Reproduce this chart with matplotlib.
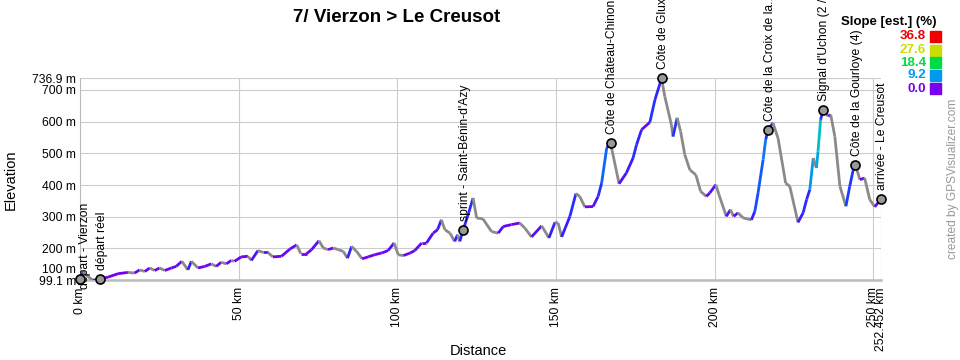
import numpy as np
import matplotlib
matplotlib.use('Agg')
import matplotlib.pyplot as plt
from matplotlib.collections import LineCollection
from matplotlib.colors import LinearSegmentedColormap, Normalize
from matplotlib.transforms import ScaledTranslation

plt.rcParams['font.family'] = ['Liberation Sans', 'DejaVu Sans']

# elevation profile (km, m)
dist_km = [0, 1.0, 2.5, 4.1, 6.4, 8.8, 12.0, 15.1, 17.2, 18.8, 20.4, 22.0, 23.5, 25.1,
           26.7, 28.8, 30.3, 32.1, 34.0, 35.1, 37.2, 39.3, 41.4, 42.9, 44.5, 46.1, 47.7,
           48.7, 50.8, 52.9, 54.0, 56.1, 57.7, 59.2, 60.8, 63.5, 66.2, 68.3, 69.6, 71.4,
           73.0, 75.3, 76.7, 78.2, 79.8, 81.4, 83.0, 84.3, 85.6, 87.2, 88.9, 90.8, 92.9,
           95.0, 97.1, 99.0, 100.3, 101.9, 104.0, 105.5, 107.7, 109.2, 111.3, 112.7, 113.9,
           115.0, 116.6, 118.1, 119.0, 119.7, 120.8, 122.3, 123.9, 125.0, 127.0, 129.7,
           131.8, 133.4, 136.0, 138.6, 140.2, 142.3, 145.5, 147.8, 149.7, 150.7, 151.8,
           154.4, 156.3, 157.5, 159.1, 161.7, 163.3, 164.4, 166.0, 167.2, 169.9, 172.2,
           174.3, 175.4, 177.0, 179.6, 181.2, 183.3, 184.3, 186.4, 186.9, 188.2, 189.3,
           190.6, 192.2, 194.1, 195.6, 197.4, 198.5, 200.4, 201.4, 203.7, 205.0, 206.0,
           207.4, 209.0, 211.6, 212.7, 213.7, 215.3, 216.1, 216.9, 218.4, 220.0, 222.4,
           223.7, 226.3, 227.9, 229.0, 230.0, 231.1, 232.1, 232.6, 233.4, 234.2, 235.8,
           236.6, 237.9, 239.5, 241.4, 242.6, 243.7, 244.4, 245.8, 247.3, 248.9, 250.5,
           252.452]
elev_m = [103, 127, 111, 99.1, 104, 109, 120, 124, 122, 132, 127, 138, 130, 138,
          130, 138, 143, 159, 132, 159, 138, 143, 151, 143, 156, 151, 162,
          159, 173, 175, 162, 193, 187, 187, 173, 175, 198, 211, 183, 183,
          196, 224, 201, 196, 201, 196, 190, 169, 206, 190, 167, 173, 180,
          185, 193, 217, 180, 177, 185, 193, 217, 217, 248, 259, 290,
          259, 248, 222, 243, 222, 259, 306, 359, 296, 293, 253,
          248, 269, 275, 280, 264, 236, 271, 233, 282, 280, 236,
          301, 373, 364, 331, 332, 364, 406, 517, 533, 404, 438,
          485, 527, 575, 598, 669, 736.9, 680, 590, 553, 612, 569,
          496, 448, 432, 380, 364, 375, 401, 369, 301, 322, 301,
          312, 296, 290, 317, 375, 480, 543, 575, 596, 548, 406,
          396, 282, 312, 354, 385, 485, 454, 506, 606, 636, 617,
          622, 553, 396, 333, 396, 448, 464, 417, 422, 354, 331,
          356]

wp_names = ["départ - Vierzon", "départ réel", "sprint - Saint-Bénin-d'Azy",
            "Côte de Château-Chinon (3)", "Côte de Glux-en-Glenne (2)",
            "Côte de la Croix de la...", "Signal d'Uchon (2 / 2)",
            "Côte de la Gourloye (4)", "arrivée - Le Creusot"]
wp_km = [0, 6.4, 120.8, 167.2, 183.3, 216.9, 234.2, 244.4, 252.452]
wp_elev = [103, 104, 259, 533, 736.9, 575, 636, 464, 356]

slope_values = [36.8, 27.6, 18.4, 9.2, 0.0]
slope_colors = ['#ee0000', '#ccdd00', '#00dd44', '#0099ee', '#7700ee']

y_ticks = [99.1, 100, 200, 300, 400, 500, 600, 700, 736.9]
x_ticks = [0, 50, 100, 150, 200, 250, 252.452]

fig = plt.figure(figsize=(9.6, 3.6), dpi=100)
ax = fig.add_axes([80 / 960, (360 - 280.3) / 360, 801 / 960, 202 / 360])

x = np.array(dist_km)
y = np.array(elev_m)
pts = np.column_stack([x, y]).reshape(-1, 1, 2)
segs = np.concatenate([pts[:-1], pts[1:]], axis=1)
slope = np.diff(y) / (np.diff(x) * 1000) * 100

# hue-like ramp: purple -> blue -> light blue -> green -> yellow -> red
cmap = LinearSegmentedColormap.from_list('slope', [
    (0.0, '#7700ee'), (0.06, '#3a1cff'), (0.14, '#1a3cff'), (0.25, '#0099ee'),
    (0.375, '#00d0b0'), (0.5, '#00dd44'), (0.625, '#77dd00'), (0.75, '#ccdd00'),
    (0.875, '#ee7700'), (1.0, '#ee0000')])
norm = Normalize(0, 36.8)
colors = [cmap(norm(s)) if s >= 0 else '#8a8a8a' for s in slope]
lc = LineCollection(segs, colors=colors, linewidths=2, zorder=3)
ax.add_collection(lc)

ax.set_xlim(0, 252.452)
ax.set_ylim(99.1, 736.9)

ax.set_yticks(y_ticks)
ax.set_yticklabels([f'{v:g} m' for v in y_ticks])
ax.set_xticks(x_ticks)
ax.set_xticklabels([f'{v:g} km' for v in x_ticks], rotation=90, va='top')
ax.tick_params(axis='both', length=0, labelsize=8.7, colors='black')
ax.tick_params(axis='x', pad=5)
ax.tick_params(axis='y', pad=3)
ax.grid(True, color='#cccccc', linewidth=0.8)
ax.set_axisbelow(True)

# nudge the "100 m" label up so it does not sit on "99.1 m"
lab100 = ax.get_yticklabels()[1]
lab100.set_transform(lab100.get_transform() + ScaledTranslation(0, 8 / 72, fig.dpi_scale_trans))

for s in ['top', 'right']:
    ax.spines[s].set_visible(False)
ax.spines['left'].set_color('#bbbbbb')
ax.spines['bottom'].set_color('#bbbbbb')
ax.spines['bottom'].set_linewidth(1.8)

ax.set_ylabel('Elevation', fontsize=10.5, labelpad=10)
fig.text(478 / 960, 1 - 351 / 360, 'Distance', ha='center', va='center', fontsize=10.5)

ax.plot(wp_km, wp_elev, 'o', ms=6.5, mfc='#999999', mec='black', mew=1.2,
        zorder=4, clip_on=False)
for i, (name, k, e) in enumerate(zip(wp_names, wp_km, wp_elev)):
    off = (3.5, -7) if i == 0 else (1, 6.5)
    ax.annotate(name, (k, e), xytext=off, textcoords='offset points',
                rotation=90, ha='center', va='bottom', fontsize=8.7,
                annotation_clip=False)

fig.text(397 / 960, 1 - 18 / 360, '7/ Vierzon > Le Creusot', ha='center',
         va='center', fontsize=13.5, fontweight='bold')

# slope legend
fig.text(889 / 960, 1 - 22 / 360, 'Slope [est.] (%)', ha='center', va='center',
         fontsize=9.5, fontweight='bold')
leg_y = [36, 50, 62.5, 75.5, 88.5]
for v, c, py in zip(slope_values, slope_colors, leg_y):
    fig.text(926 / 960, 1 - py / 360, f'{v:.1f}', ha='right', va='center',
             fontsize=9.6, fontweight='bold', color=c)
    fig.patches.append(plt.Rectangle((930 / 960, 1 - (py + 5.5) / 360), 11 / 960,
                                     11 / 360, transform=fig.transFigure,
                                     color=c, figure=fig))

fig.text(953 / 960, 1 - 179 / 360, 'created by GPSVisualizer.com', rotation=90,
         ha='center', va='center', fontsize=8.6, color='#999999')

fig.savefig('out.png', dpi=100)
